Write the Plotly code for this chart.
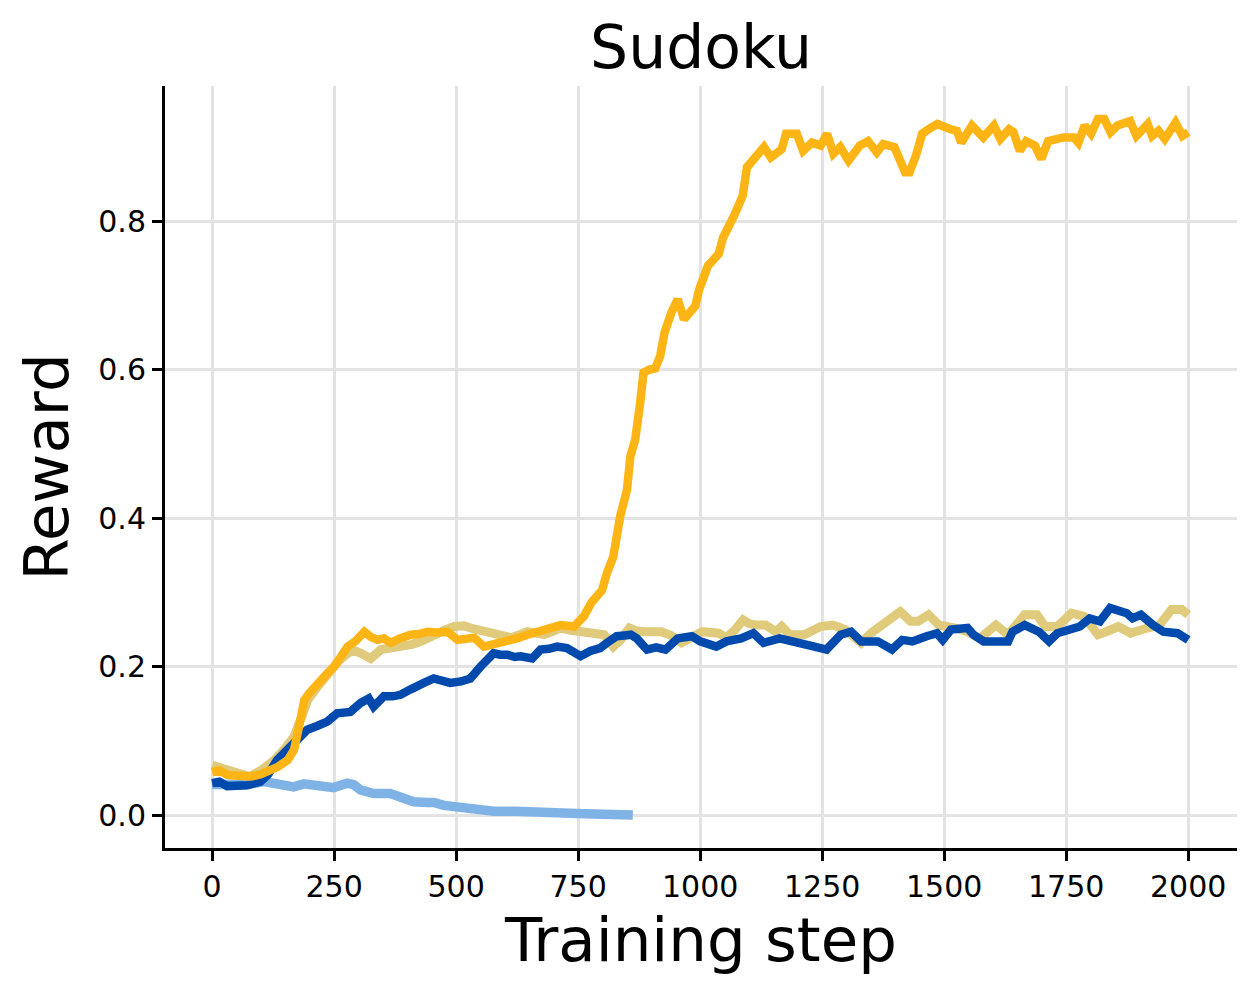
import plotly.graph_objects as go

# ---------------- data ----------------
steps_gold = [0, 15, 32, 55, 80, 100, 114, 135, 155, 168, 180, 189, 200, 216, 235, 250, 265, 278, 295, 312,
              325, 339, 352, 366, 385, 407, 425, 441, 460, 482, 503, 520, 537, 557, 580, 605, 625, 646, 665, 687,
              714, 742, 762, 777, 799, 809, 822, 836, 850, 857, 867, 877, 884, 895, 908, 918, 927, 941, 954, 967,
              980, 990, 998, 1016, 1038, 1047, 1069, 1087, 1096, 1110, 1123, 1131, 1145, 1160, 1167, 1176, 1198,
              1211, 1229, 1247, 1260, 1273, 1287, 1304, 1327, 1344, 1362, 1375, 1398, 1420, 1429, 1442, 1455,
              1470, 1486, 1513, 1526, 1535, 1557, 1580, 1602, 1615, 1633, 1642, 1655, 1668, 1686, 1699, 1713,
              1744, 1766, 1775, 1788, 1801, 1815, 1828, 1841, 1855, 1881, 1894, 1917, 1926, 1939, 1952, 1974,
              1988, 2000]
reward_gold = [0.058, 0.060, 0.054, 0.053, 0.052, 0.055, 0.058, 0.065, 0.074, 0.088, 0.125, 0.155, 0.165, 0.178,
               0.190, 0.200, 0.215, 0.227, 0.235, 0.247, 0.240, 0.236, 0.238, 0.232, 0.238, 0.243, 0.244, 0.247,
               0.246, 0.247, 0.236, 0.238, 0.239, 0.227, 0.230, 0.234, 0.238, 0.243, 0.247, 0.252, 0.256, 0.254,
               0.268, 0.286, 0.303, 0.326, 0.348, 0.402, 0.438, 0.483, 0.506, 0.555, 0.596, 0.600, 0.602, 0.618,
               0.650, 0.677, 0.695, 0.668, 0.680, 0.686, 0.708, 0.740, 0.756, 0.778, 0.807, 0.834, 0.873, 0.885,
               0.895, 0.900, 0.886, 0.893, 0.897, 0.918, 0.918, 0.895, 0.906, 0.902, 0.918, 0.891, 0.900, 0.882,
               0.902, 0.908, 0.893, 0.904, 0.900, 0.866, 0.866, 0.888, 0.918, 0.925, 0.931, 0.924, 0.922, 0.906,
               0.929, 0.913, 0.929, 0.911, 0.924, 0.920, 0.895, 0.908, 0.902, 0.884, 0.908, 0.913, 0.913, 0.906,
               0.929, 0.918, 0.938, 0.938, 0.920, 0.929, 0.935, 0.915, 0.931, 0.915, 0.922, 0.911, 0.933, 0.915,
               0.920]

steps_khaki = [0, 25, 50, 77, 100, 128, 150, 168, 185, 196, 215, 237, 260, 278, 290, 305, 325, 346, 366, 387,
               410, 428, 445, 462, 480, 496, 516, 530, 544, 560, 578, 595, 612, 630, 646, 665, 680, 700, 714, 735,
               755, 783, 803, 822, 837, 855, 870, 889, 921, 940, 962, 985, 1004, 1038, 1054, 1072, 1088, 1100,
               1113, 1134, 1155, 1167, 1184, 1213, 1230, 1247, 1272, 1297, 1315, 1330, 1350, 1364, 1389, 1410,
               1431, 1447, 1468, 1489, 1523, 1548, 1573, 1590, 1606, 1631, 1650, 1665, 1690, 1707, 1732, 1761,
               1786, 1800, 1815, 1832, 1857, 1882, 1900, 1916, 1941, 1966, 1987, 2000]
reward_khaki = [0.067, 0.063, 0.056, 0.052, 0.060, 0.074, 0.090, 0.106, 0.135, 0.155, 0.172, 0.191, 0.208, 0.218,
                0.222, 0.218, 0.211, 0.223, 0.225, 0.225, 0.230, 0.234, 0.240, 0.243, 0.250, 0.254, 0.255, 0.252,
                0.250, 0.247, 0.243, 0.240, 0.239, 0.243, 0.247, 0.245, 0.243, 0.248, 0.252, 0.249, 0.247, 0.247,
                0.243, 0.227, 0.236, 0.252, 0.248, 0.247, 0.247, 0.242, 0.232, 0.240, 0.247, 0.245, 0.239, 0.250,
                0.263, 0.258, 0.256, 0.256, 0.247, 0.254, 0.243, 0.243, 0.250, 0.254, 0.256, 0.250, 0.240, 0.232,
                0.245, 0.252, 0.261, 0.274, 0.261, 0.261, 0.270, 0.256, 0.252, 0.247, 0.238, 0.248, 0.256, 0.243,
                0.258, 0.270, 0.270, 0.254, 0.254, 0.272, 0.268, 0.258, 0.243, 0.247, 0.254, 0.245, 0.250, 0.252,
                0.256, 0.277, 0.277, 0.270]

steps_navy = [0, 15, 31, 50, 72, 99, 115, 133, 150, 167, 180, 195, 215, 236, 256, 283, 304, 321, 331, 352, 370,
              386, 406, 420, 434, 454, 470, 488, 510, 529, 550, 577, 590, 605, 620, 632, 656, 673, 690, 707, 727,
              755, 775, 795, 809, 829, 845, 858, 870, 891, 910, 929, 954, 983, 1000, 1033, 1054, 1084, 1109, 1130,
              1163, 1196, 1213, 1234, 1259, 1288, 1309, 1330, 1364, 1393, 1414, 1435, 1464, 1485, 1497, 1514,
              1548, 1560, 1581, 1610, 1631, 1640, 1665, 1694, 1715, 1732, 1757, 1778, 1798, 1819, 1840, 1874,
              1886, 1903, 1928, 1949, 1978, 2000]
reward_navy = [0.043, 0.045, 0.039, 0.040, 0.040, 0.045, 0.055, 0.074, 0.085, 0.097, 0.108, 0.115, 0.120, 0.126,
               0.137, 0.139, 0.151, 0.157, 0.146, 0.160, 0.160, 0.162, 0.169, 0.172, 0.178, 0.184, 0.180, 0.178,
               0.180, 0.184, 0.200, 0.218, 0.216, 0.216, 0.213, 0.214, 0.211, 0.223, 0.224, 0.227, 0.225, 0.214,
               0.221, 0.225, 0.232, 0.241, 0.242, 0.243, 0.238, 0.223, 0.226, 0.223, 0.238, 0.241, 0.234, 0.227,
               0.234, 0.238, 0.245, 0.232, 0.238, 0.234, 0.232, 0.227, 0.223, 0.243, 0.247, 0.234, 0.234, 0.223,
               0.236, 0.234, 0.241, 0.245, 0.236, 0.250, 0.252, 0.243, 0.234, 0.234, 0.234, 0.247, 0.256, 0.247,
               0.234, 0.245, 0.250, 0.254, 0.265, 0.261, 0.279, 0.272, 0.265, 0.270, 0.256, 0.247, 0.245, 0.236]

steps_sky = [0, 31, 70, 106, 140, 167, 188, 215, 249, 277, 290, 304, 331, 365, 390, 413, 440, 454, 475, 495, 520,
             543, 577, 620, 680, 710, 748, 800, 862]
reward_sky = [0.041, 0.040, 0.041, 0.045, 0.041, 0.038, 0.042, 0.040, 0.037, 0.043, 0.041, 0.034, 0.029, 0.029,
              0.024, 0.018, 0.017, 0.017, 0.013, 0.011, 0.010, 0.009, 0.005, 0.005, 0.005, 0.004, 0.002, 0.001,
              0.000]

x_ticks = [0, 250, 500, 750, 1000, 1250, 1500, 1750, 2000]
y_ticks = [0.0, 0.2, 0.4, 0.6, 0.8]
y_tick_text = ["0.0", "0.2", "0.4", "0.6", "0.8"]

# ---------------- figure ----------------
FONT = "DejaVu Sans"
fig = go.Figure()
fig.add_trace(go.Scatter(x=steps_sky, y=reward_sky, mode="lines",
                         line=dict(color="#80B3E5", width=9.5), showlegend=False))
fig.add_trace(go.Scatter(x=steps_khaki, y=reward_khaki, mode="lines",
                         line=dict(color="#E0CB7C", width=9), showlegend=False))
fig.add_trace(go.Scatter(x=steps_navy, y=reward_navy, mode="lines",
                         line=dict(color="#004AAD", width=8.5), showlegend=False))
fig.add_trace(go.Scatter(x=steps_gold, y=reward_gold, mode="lines",
                         line=dict(color="#FDB515", width=8.5), showlegend=False))

fig.update_layout(
    width=1258, height=994,
    margin=dict(l=165, r=21, t=86, b=146),
    paper_bgcolor="white", plot_bgcolor="white",
    font=dict(family=FONT, color="black"),
    title=dict(text="Sudoku", font=dict(family=FONT, size=60, color="black"),
               x=0.5, xref="paper", xanchor="center",
               y=1 - 47 / 994, yref="container", yanchor="middle"),
)
fig.update_xaxes(
    range=[-96.5, 2100], tickvals=x_ticks, ticktext=[str(v) for v in x_ticks],
    showgrid=True, gridcolor="#E3E3E3", gridwidth=3, zeroline=False,
    showline=True, linecolor="black", linewidth=3,
    ticks="outside", ticklen=10, tickwidth=2.5, tickcolor="black",
    tickfont=dict(family=FONT, size=30, color="black"),
    title=dict(text="Training step", font=dict(family=FONT, size=61, color="black"), standoff=6),
)
fig.update_yaxes(
    range=[-0.0444, 0.9823], tickvals=y_ticks, ticktext=y_tick_text,
    showgrid=True, gridcolor="#E3E3E3", gridwidth=3, zeroline=False,
    showline=True, linecolor="black", linewidth=3,
    ticks="outside", ticklen=10, tickwidth=2.5, tickcolor="black",
    tickfont=dict(family=FONT, size=30, color="black"),
    title=dict(text="Reward", font=dict(family=FONT, size=61, color="black"), standoff=10),
)

fig.write_html("out.html")
